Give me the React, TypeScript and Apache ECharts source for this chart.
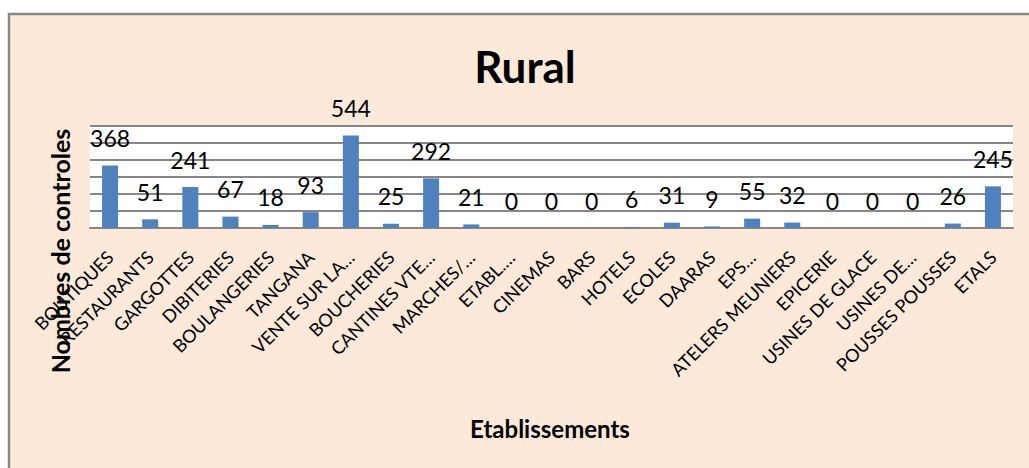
import React, { useEffect, useRef } from "react";
import * as echarts from "echarts";

const categories = [
  "BOUTIQUES", "RESTAURANTS", "GARGOTTES", "DIBITERIES", "BOULANGERIES", "TANGANA",
  "VENTE SUR LA…", "BOUCHERIES", "CANTINES VTE…", "MARCHES/…", "ETABL.…", "CINEMAS",
  "BARS", "HOTELS", "ECOLES", "DAARAS", "EPS…", "ATELERS MEUNIERS", "EPICERIE",
  "USINES DE GLACE", "USINES DE…", "POUSSES POUSSES", "ETALS",
];
const values = [368, 51, 241, 67, 18, 93, 544, 25, 292, 21, 0, 0, 0, 6, 31, 9, 55, 32, 0, 0, 0, 26, 245];
const titleText = "Rural";
const xName = "Etablissements";
const yName = "Nombres de controles";

const FONT = "Lato, 'Open Sans', sans-serif";

export default function App() {
  const ref = useRef<HTMLDivElement>(null);
  useEffect(() => {
    const chart = echarts.init(ref.current!, null, { renderer: "svg" });
    chart.setOption({
      animation: false,
      backgroundColor: "#ffffff",
      graphic: [
        {
          type: "rect",
          z: -10,
          shape: { x: 9, y: 14, width: 1040, height: 480 },
          style: { fill: "#FDE9D9", stroke: "#878787", lineWidth: 2.5 },
        },
        {
          type: "rect",
          z: -5,
          shape: { x: 90, y: 126, width: 923, height: 102 },
          style: { fill: "#ffffff" },
        },
        {
          type: "text",
          x: 525,
          y: 66,
          style: {
            text: titleText,
            font: `bold 44px ${FONT}`,
            fill: "#000",
            textAlign: "center",
            textVerticalAlign: "middle",
          },
        },
        {
          type: "text",
          x: 550,
          y: 428,
          style: {
            text: xName,
            font: `bold 24px ${FONT}`,
            fill: "#000",
            textAlign: "center",
            textVerticalAlign: "middle",
          },
        },
        {
          type: "text",
          x: 60,
          y: 251,
          rotation: Math.PI / 2,
          style: {
            text: yName,
            font: `bold 25px ${FONT}`,
            fill: "#000",
            textAlign: "center",
            textVerticalAlign: "middle",
          },
        },
      ],
      grid: { left: 90, right: 16, top: 126, bottom: 240, containLabel: false },
      xAxis: {
        type: "category",
        data: categories,
        axisLine: { show: true, lineStyle: { color: "#878787", width: 2 } },
        axisTick: { show: false },
        axisLabel: {
          interval: 0,
          rotate: 45,
          fontSize: 18,
          fontFamily: FONT,
          color: "#000",
          margin: 26,
        },
      },
      yAxis: {
        type: "value",
        min: 0,
        max: 600,
        interval: 100,
        axisLine: { show: false },
        axisTick: { show: false },
        axisLabel: { show: false },
        splitLine: { show: true, lineStyle: { color: "#878787", width: 2 } },
      },
      series: [
        {
          type: "bar",
          data: values,
          barWidth: 16,
          itemStyle: { color: "#4F81BD" },
          label: {
            show: true,
            position: "top",
            distance: 16,
            fontSize: 23,
            fontFamily: FONT,
            color: "#000",
          },
        },
      ],
    });
    return () => chart.dispose();
  }, []);
  return (
    <div
      ref={ref}
      style={{ position: "absolute", left: 0, top: 0, width: 1029, height: 468 }}
    />
  );
}
